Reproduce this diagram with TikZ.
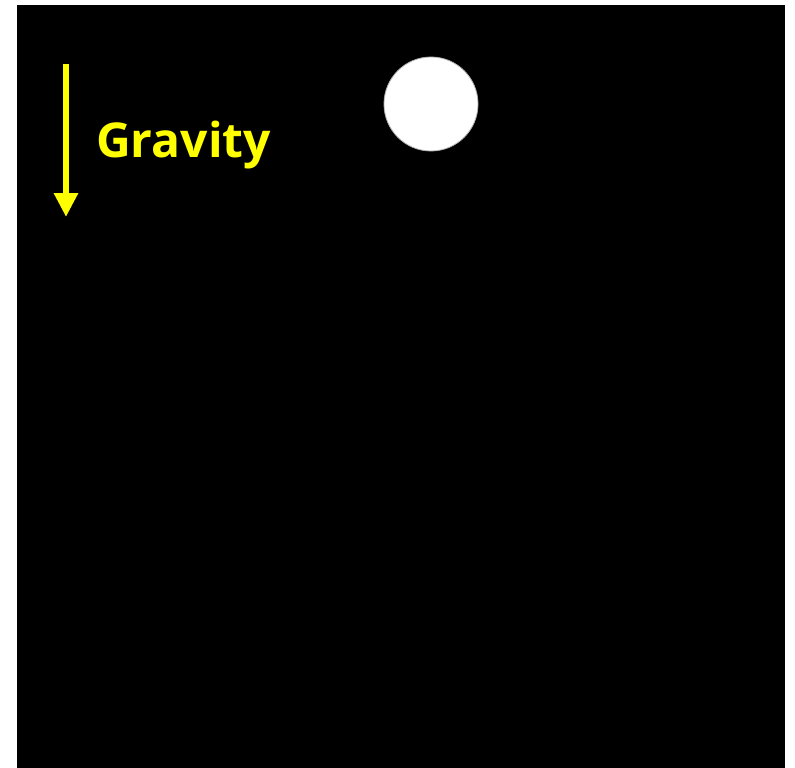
\documentclass[tikz,border=0pt]{standalone}
\usepackage{fontspec}
\setmainfont{Open Sans}
\usetikzlibrary{arrows.meta}
\definecolor{gyellow}{RGB}{255,255,0}
\tikzset{
  gravarrow/.style={draw=gyellow, line width=6.5pt, -{Triangle[width=23pt,length=24pt]}},
  gravlabel/.style={text=gyellow, font=\fontsize{48}{56}\selectfont\bfseries, anchor=base west, inner sep=0pt},
  ball/.style={circle, fill=white, draw=gray!60, line width=0.8pt, minimum size=94pt, inner sep=0pt}
}
\begin{document}
\begin{tikzpicture}[x=1pt,y=-1pt]
\useasboundingbox (0,0) rectangle (795,768);
\fill[white] (0,0) rectangle (795,768);
\fill[black] (17,5) rectangle (785,768);
\coordinate (gtop) at (66,64);
\coordinate (gbot) at (66,217);
\draw[gravarrow] (gtop) -- (gbot);
\node[gravlabel] (lbl) at (96,157) {Gravity};
\node[ball] (b) at (431,104) {};
\end{tikzpicture}
\end{document}
